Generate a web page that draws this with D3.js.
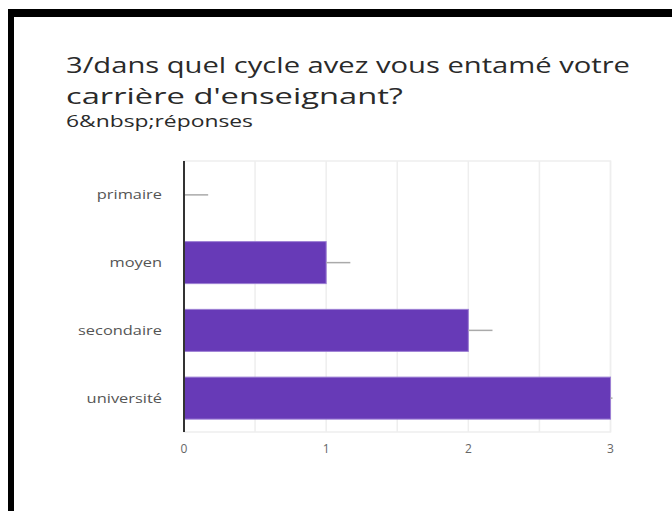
<!DOCTYPE html>
<html><head><meta charset="utf-8">
<script src="https://cdn.jsdelivr.net/npm/d3@7"></script>
<style>html,body{margin:0;padding:0;background:#fff;}svg{display:block;}</style>
</head><body>
<script>
const categories = ["primaire", "moyen", "secondaire", "université"];
const values = [0, 1, 2, 3];
const xTicks = [0, 1, 2, 3];
const gridTicks = [0, 0.5, 1, 1.5, 2, 2.5, 3];
const titleLines = ["3/dans quel cycle avez vous entamé votre", "carrière d'enseignant?"];
const subtitle = "6&nbsp;réponses";

const W = 672, H = 511;
const svg = d3.select("body").append("svg").attr("width", W).attr("height", H);
svg.append("rect").attr("width", W).attr("height", H).attr("fill", "#fff");

// frame
svg.append("rect").attr("x", 8).attr("y", 9).attr("width", W - 8).attr("height", 8).attr("fill", "#000");
svg.append("rect").attr("x", 8).attr("y", 9).attr("width", 6).attr("height", H - 9).attr("fill", "#000");

function fitTo(sel, target) {
  sel.attr("textLength", target).attr("lengthAdjust", "spacingAndGlyphs");
}
function stretch(sel, k) {
  sel.each(function() {
    const w = this.getComputedTextLength();
    d3.select(this).attr("textLength", w * k).attr("lengthAdjust", "spacingAndGlyphs");
  });
}

// title
const tfont = "'Open Sans', Roboto, sans-serif";
const t1 = svg.append("text").attr("x", 66).attr("y", 73).attr("font-family", tfont)
  .attr("font-size", 22).attr("fill", "#2a2a2a").text(titleLines[0]);
const t2 = svg.append("text").attr("x", 66).attr("y", 104).attr("font-family", tfont)
  .attr("font-size", 22).attr("fill", "#2a2a2a").text(titleLines[1]);
fitTo(t1, 564); fitTo(t2, 337);
const st = svg.append("text").attr("x", 66).attr("y", 127).attr("font-family", tfont)
  .attr("font-size", 17).attr("fill", "#2a2a2a").text(subtitle);
fitTo(st, 187);

// scales
const x = d3.scaleLinear().domain([0, 3]).range([184, 610.5]);
const y = d3.scaleBand().domain(categories).range([161, 432]).paddingInner(0.38).paddingOuter(0.19);

// plot border + grid
svg.append("rect").attr("x", x(0)).attr("y", 161).attr("width", x(3) - x(0)).attr("height", 432 - 161)
  .attr("fill", "none").attr("stroke", "#eeeeee").attr("stroke-width", 1.5);
svg.append("g").selectAll("line").data(gridTicks).join("line")
  .attr("x1", d => x(d)).attr("x2", d => x(d)).attr("y1", 161).attr("y2", 432)
  .attr("stroke", "#eeeeee").attr("stroke-width", 1.5);

// bars
const data = categories.map((c, i) => ({c, v: values[i]}));
svg.append("g").selectAll("rect").data(data.filter(d => d.v > 0)).join("rect")
  .attr("x", x(0)).attr("y", d => y(d.c)).attr("width", d => x(d.v) - x(0)).attr("height", y.bandwidth())
  .attr("fill", "#673ab7").attr("stroke", "#9c7fd4").attr("stroke-width", 1);

// whisker lines
svg.append("g").selectAll("line").data(data).join("line")
  .attr("x1", d => x(d.v)).attr("x2", d => Math.min(x(d.v + 0.17), x(3) + 2))
  .attr("y1", d => y(d.c) + y.bandwidth() / 2).attr("y2", d => y(d.c) + y.bandwidth() / 2)
  .attr("stroke", "#aaaaaa").attr("stroke-width", 1.5);

// axis line
svg.append("line").attr("x1", x(0)).attr("x2", x(0)).attr("y1", 161).attr("y2", 432)
  .attr("stroke", "#333").attr("stroke-width", 2);

// category labels
const lfont = "'Open Sans', Lato, sans-serif";
const labels = svg.append("g").selectAll("text").data(categories).join("text")
  .attr("x", 162).attr("y", d => y(d) + y.bandwidth() / 2).attr("dy", "0.35em")
  .attr("text-anchor", "end").attr("font-family", lfont).attr("font-size", 12.5).attr("fill", "#555")
  .text(d => d);
const wl = labels.filter(d => d === "secondaire").node().getComputedTextLength();
stretch(labels, 84 / wl);

// x tick labels
svg.append("g").selectAll("text").data(xTicks).join("text")
  .attr("x", d => x(d)).attr("y", 449).attr("dy", "0.35em").attr("text-anchor", "middle")
  .attr("font-family", lfont).attr("font-size", 12).attr("fill", "#666").text(d => d);
</script>
</body></html>
